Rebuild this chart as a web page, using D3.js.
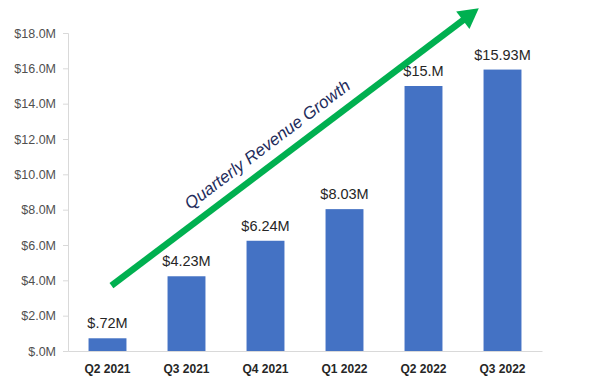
<!DOCTYPE html>
<meta charset="utf-8">
<html>
<title>Quarterly Revenue</title>
<script src="https://d3js.org/d3.v7.min.js"></script>
<style>
  body {margin: 0; background: #fff; font-family: "Liberation Sans", Arial, sans-serif;}
  .axis--y text {font-size: 12.5px; fill: #505050;}
  .axis--x text {font-size: 12px; font-weight: bold; fill: #262626;}
  .axis path, .axis line {stroke: #d9d9d9;}
  .label {font-size: 14.5px; fill: #262626;}
  .note {font-size: 17px; font-style: italic; fill: #1f2d5c;}
</style>
<body>
<svg id="chart" width="600" height="386"></svg>
<script>
var quarters = ["Q2 2021", "Q3 2021", "Q4 2021", "Q1 2022", "Q2 2022", "Q3 2022"];
var revenue = [0.72, 4.23, 6.24, 8.03, 15.0, 15.93];
var valueLabels = ["$.72M", "$4.23M", "$6.24M", "$8.03M", "$15.M", "$15.93M"];
var yTicks = [0, 2, 4, 6, 8, 10, 12, 14, 16, 18];
// arrow ends given in chart units (band index, $M)
var arrowFrom = [0.05, 3.7];
var arrowTo = [4.7, 19.4];
var noteText = "Quarterly Revenue Growth";

var svg = d3.select("#chart"),
    margin = {top: 33, right: 58, bottom: 35, left: 68},
    width = +svg.attr("width") - margin.left - margin.right,
    height = +svg.attr("height") - margin.top - margin.bottom;

var g = svg.append("g")
    .attr("transform", "translate(" + margin.left + "," + margin.top + ")");

var x = d3.scaleBand().domain(quarters).range([0, width])
    .paddingInner(0.52).paddingOuter(0.26);
var y = d3.scaleLinear().domain([0, 18]).range([height, 0]);

var fmt = function (d) { return d === 0 ? "$.0M" : "$" + d.toFixed(1) + "M"; };

g.append("g")
    .attr("class", "axis axis--y")
    .call(d3.axisLeft(y).tickValues(yTicks).tickFormat(fmt).tickSize(5).tickPadding(7));

g.append("g")
    .attr("class", "axis axis--x")
    .attr("transform", "translate(0," + height + ")")
    .call(d3.axisBottom(x).tickSize(0).tickPadding(13));

g.selectAll(".bar")
    .data(revenue)
    .enter().append("rect")
    .attr("class", "bar")
    .attr("x", function (d, i) { return x(quarters[i]); })
    .attr("y", function (d) { return y(d); })
    .attr("width", x.bandwidth())
    .attr("height", function (d) { return height - y(d); })
    .attr("fill", "#4472c4");

g.selectAll(".label")
    .data(revenue)
    .enter().append("text")
    .attr("class", "label")
    .attr("text-anchor", "middle")
    .attr("x", function (d, i) { return x(quarters[i]) + x.bandwidth() / 2; })
    .attr("y", function (d) { return y(d) - 10; })
    .text(function (d, i) { return valueLabels[i]; });

// growth arrow
var ax = function (p) { return x(quarters[0]) + x.bandwidth() / 2 + p * x.step(); };
var x1 = ax(arrowFrom[0]), y1 = y(arrowFrom[1]),
    x2 = ax(arrowTo[0]), y2 = y(arrowTo[1]);
var ang = Math.atan2(y2 - y1, x2 - x1);
var headLen = 20, headW = 11;
var bx = x2 - headLen * Math.cos(ang), by = y2 - headLen * Math.sin(ang);

g.append("line")
    .attr("x1", x1).attr("y1", y1)
    .attr("x2", bx + 2 * Math.cos(ang)).attr("y2", by + 2 * Math.sin(ang))
    .attr("stroke", "#00b050")
    .attr("stroke-width", 6.5);

g.append("path")
    .attr("d", "M" + x2 + "," + y2 +
      "L" + (bx + headW * Math.sin(ang)) + "," + (by - headW * Math.cos(ang)) +
      "L" + (bx - headW * Math.sin(ang)) + "," + (by + headW * Math.cos(ang)) + "Z")
    .attr("fill", "#00b050");

var mx = x1 + (x2 - x1) * 0.455, my = y1 + (y2 - y1) * 0.455;
g.append("text")
    .attr("class", "note")
    .attr("text-anchor", "middle")
    .attr("transform", "translate(" + (mx + 13 * Math.sin(ang)) + "," + (my - 13 * Math.cos(ang)) + ") rotate(" + (ang * 180 / Math.PI) + ")")
    .text(noteText);
</script>
</body>
</html>
